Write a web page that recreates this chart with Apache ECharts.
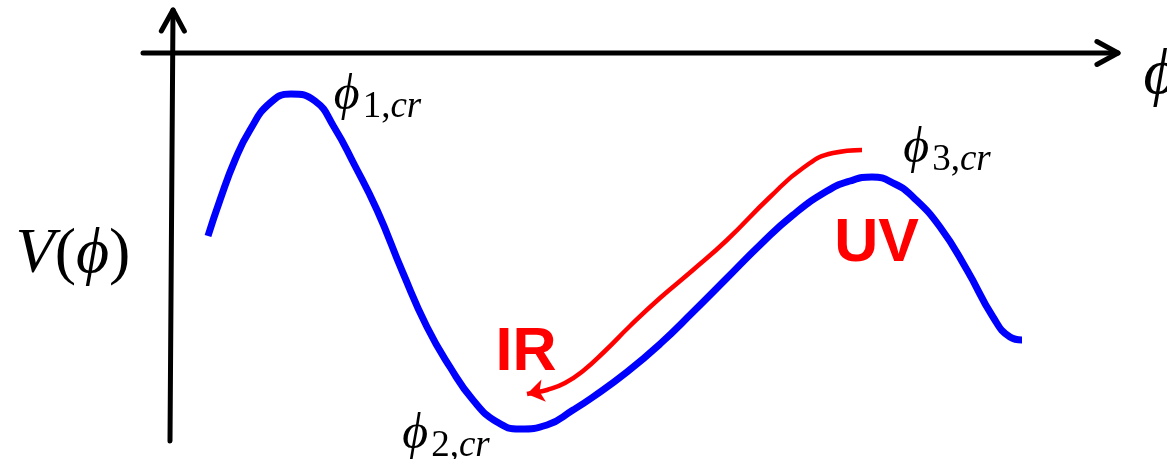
<!DOCTYPE html>
<html>
<head>
<meta charset="utf-8">
<script src="https://cdn.jsdelivr.net/npm/echarts@6/dist/echarts.min.js"></script>
<style>
html, body { margin: 0; background: #fff; }
#chart { width: 1167px; height: 459px; }
</style>
</head>
<body>
<div id="chart"></div>
<script>
// potential V(phi): phi along x, V along y (axis crossing at 0,0)
const blueCurve = [
	[0.36, -1.83], [0.48, -1.47], [0.63, -1.07], [0.78, -0.77], [0.98, -0.50],
	[1.19, -0.41], [1.43, -0.48], [1.62, -0.74], [1.82, -1.11], [2.05, -1.57],
	[2.31, -2.20], [2.55, -2.74], [2.78, -3.14], [3.01, -3.47], [3.25, -3.69],
	[3.48, -3.76], [3.75, -3.72], [4.01, -3.57], [4.21, -3.44], [4.55, -3.19],
	[4.88, -2.91], [5.21, -2.59], [5.55, -2.25], [5.88, -1.92], [6.21, -1.62],
	[6.55, -1.38], [6.78, -1.28], [7.00, -1.24], [7.23, -1.31], [7.41, -1.44],
	[7.68, -1.74], [7.95, -2.17], [8.21, -2.64], [8.38, -2.84], [8.50, -2.87],
]

// RG flow UV -> IR
const redCurve = [
	[6.90, -0.97], [6.61, -1.00], [6.31, -1.15], [5.98, -1.44], [5.55, -1.87],
	[5.21, -2.17], [4.88, -2.45], [4.58, -2.73], [4.33, -2.98], [4.11, -3.18],
	[3.93, -3.30], [3.75, -3.37], [3.65, -3.39],
]
const redArrow = [[3.65, -3.39], [3.55, -3.41]]

// [x0, y0, x1, y1], arrow at (x1, y1)
const axisLines = [
	[-0.02, -3.88, 0.01, 0.43],
	[-0.29, 0, 9.46, 0],
]

const critNames = ['1', '2', '3']
const critPos = [[2.055, -0.45], [2.74, -3.84], [7.75, -0.98]]

const textLabels = [
	{ text: '{it|V}{up|(}{it|\u03D5}{up|)}', pos: [-0.99, -2.02] },
	{ text: '{it|\u03D5}', pos: [9.88, -0.23] },
	{ text: '{bold|UV}', pos: [7.045, -1.915] },
	{ text: '{bold|IR}', pos: [3.54, -3.005] },
]

const serif = "'Liberation Serif', 'DejaVu Serif', serif"
const sans = "'Liberation Sans', Arial, sans-serif"

const myChart = echarts.init(document.getElementById('chart'))

const arrowAxis = (params, api) => {
	const p0 = api.coord([api.value(0), api.value(1)])
	const p1 = api.coord([api.value(2), api.value(3)])
	const ang = Math.atan2(p1[1] - p0[1], p1[0] - p0[0])
	const len = 24
	const spread = 0.5
	const a1 = [p1[0] - len * Math.cos(ang - spread), p1[1] - len * Math.sin(ang - spread)]
	const a2 = [p1[0] - len * Math.cos(ang + spread), p1[1] - len * Math.sin(ang + spread)]
	const style = { stroke: '#000', lineWidth: 5, lineCap: 'round', lineJoin: 'round', fill: null }
	return {
		type: 'group',
		children: [
			{ type: 'line', shape: { x1: p0[0], y1: p0[1], x2: p1[0], y2: p1[1] }, style: style },
			{ type: 'polyline', shape: { points: [a1, p1, a2] }, style: style },
		],
	}
}

let option = {
	animation: false,
	grid: { left: 0, right: 0, top: 0, bottom: 0 },
	xAxis: { type: 'value', min: -1.72, max: 9.95, show: false },
	yAxis: { type: 'value', min: -4.06, max: 0.53, show: false },
	series: [
		{
			type: 'custom',
			renderItem: arrowAxis,
			data: axisLines,
			silent: true,
		},
		{
			name: 'V',
			type: 'line',
			data: blueCurve,
			smooth: 0.5,
			showSymbol: false,
			lineStyle: { color: '#0000ff', width: 7, cap: 'butt', join: 'round', opacity: 1 },
			silent: true,
		},
		{
			name: 'flow',
			type: 'line',
			data: redCurve,
			smooth: 0.5,
			showSymbol: false,
			lineStyle: { color: '#ff0000', width: 4.5, cap: 'butt', join: 'round', opacity: 1 },
			silent: true,
		},
		{
			type: 'lines',
			coordinateSystem: 'cartesian2d',
			symbol: ['none', 'arrow'],
			symbolSize: 17,
			lineStyle: { color: '#ff0000', width: 4.5, curveness: 0, opacity: 1 },
			data: [{ coords: redArrow }],
			silent: true,
		},
		{
			type: 'scatter',
			symbolSize: 1,
			itemStyle: { color: 'rgba(0,0,0,0)', opacity: 1 },
			silent: true,
			label: {
				show: true,
				position: 'inside',
				rich: {
					phi: { fontFamily: serif, fontStyle: 'italic', fontSize: 50, color: '#000', verticalAlign: 'bottom', padding: [0, 3, 5, 0] },
					sub: { fontFamily: serif, fontSize: 37, color: '#000', verticalAlign: 'bottom' },
					subit: { fontFamily: serif, fontStyle: 'italic', fontSize: 37, color: '#000', verticalAlign: 'bottom' },
					it: { fontFamily: serif, fontStyle: 'italic', fontSize: 64, color: '#000' },
					up: { fontFamily: serif, fontSize: 64, color: '#000' },
					bold: { fontFamily: sans, fontWeight: 'bold', fontSize: 61, color: '#ff0000' },
				},
			},
			data: critNames.map((n, i) => ({
				value: critPos[i],
				label: { formatter: `{phi|\u03D5}{sub|${n},}{subit|cr}` },
			})).concat(textLabels.map((t) => ({
				value: t.pos,
				label: { formatter: t.text },
			}))),
		},
	],
}
myChart.setOption(option)

window.addEventListener('resize', () => {
	myChart.resize()
})
</script>
</body>
</html>
